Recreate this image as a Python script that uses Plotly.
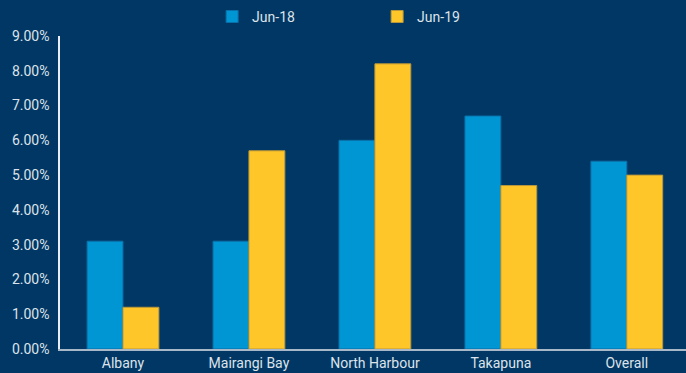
import plotly.graph_objects as go

categories = ["Albany", "Mairangi Bay", "North Harbour", "Takapuna", "Overall"]
jun18 = [0.031, 0.031, 0.060, 0.067, 0.054]
jun19 = [0.012, 0.057, 0.082, 0.047, 0.050]
series_names = ["Jun-18", "Jun-19"]

BG = "#003764"
BLUE = "#0096D4"
YELLOW = "#FFC629"
TXT = "#DDE3EA"
FONT = "Roboto, Noto Sans, sans-serif"

fig = go.Figure()
fig.add_trace(go.Bar(x=categories, y=jun18, name=series_names[0],
                     marker=dict(color=BLUE, line=dict(color="#0A6FA8", width=1))))
fig.add_trace(go.Bar(x=categories, y=jun19, name=series_names[1],
                     marker=dict(color=YELLOW, line=dict(color="#B8973A", width=1))))

fig.update_layout(
    width=686, height=373,
    paper_bgcolor=BG, plot_bgcolor=BG,
    margin=dict(l=60, r=0, t=36, b=24, autoexpand=False),
    barmode="group", bargap=0.43, bargroupgap=0,
    font=dict(family=FONT, color=TXT, size=14),
    showlegend=True,
    legend=dict(orientation="h", x=0.243, xanchor="left", y=1.061, yanchor="middle",
                entrywidth=120, entrywidthmode="pixels",
                font=dict(size=14, color=TXT), bgcolor="rgba(0,0,0,0)"),
    xaxis=dict(range=[-0.5, 4.47], showline=True, linecolor="#A9B8C8", linewidth=2,
               ticks="", showgrid=False, tickfont=dict(size=14, color=TXT)),
    yaxis=dict(range=[0, 0.09], dtick=0.01, tickformat=".2%", showgrid=False,
               zeroline=False, showline=True, linecolor="#E8EEF4", linewidth=1.5,
               ticks="", ticklabelstandoff=6, tickfont=dict(size=14, color=TXT)),
)

fig.write_html("out.html",
               config={"displayModeBar": False},
               post_script="document.body.style.margin='0';document.body.style.overflow='hidden';document.body.style.background='" + BG + "';")
